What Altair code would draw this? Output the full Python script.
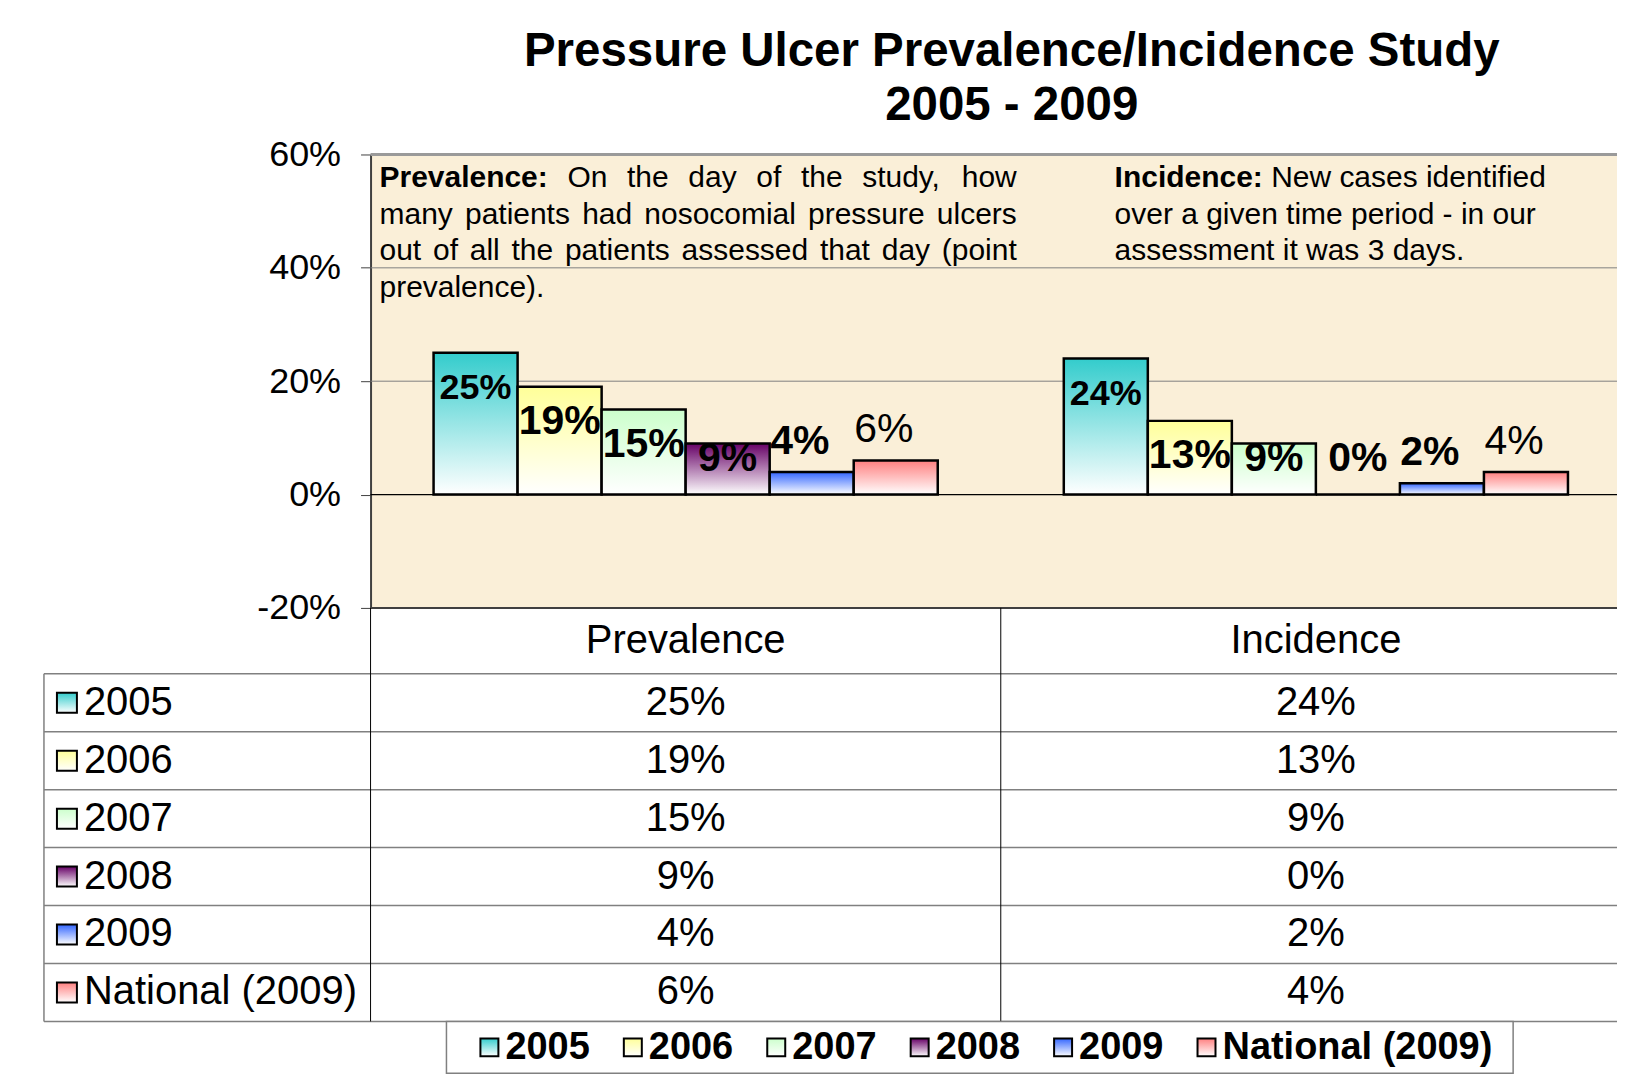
import altair as alt
import pandas as pd

# ---------------- data ----------------
series = ["2005", "2006", "2007", "2008", "2009", "National (2009)"]
categories = ["Prevalence", "Incidence"]
prevalence = [0.25, 0.19, 0.15, 0.09, 0.04, 0.06]
incidence = [0.24, 0.13, 0.09, 0.00, 0.02, 0.04]
y_ticks = [-0.2, 0.0, 0.2, 0.4, 0.6]
grid_vals = [0.2, 0.4]
title_lines = ["Pressure Ulcer Prevalence/Incidence Study", "2005 - 2009"]

# ---------------- styles ----------------
colors = ["#33CCCC", "#FFFF99", "#CCFFCC", "#660066", "#3366FF", "#FF8080"]
label_size = [36, 41, 41, 41, 41, 41]
label_weight = ["bold", "bold", "bold", "bold", "bold", "normal"]
label_outside = [False, False, False, False, True, True]

FONT = "Liberation Sans"
W, H = 1262, 454          # plot area of the bar panel (right part is cut by the page)
HEAD, ROW = 66, 58        # data table header / row heights
TH = HEAD + ROW * len(series)
LH = 52                   # legend strip height
TABLE_LEFT = -327

rows = []
for c, vals in zip(categories, [prevalence, incidence]):
    for s, v in zip(series, vals):
        rows.append({"category": c, "series": s, "value": v})
df = pd.DataFrame(rows)


def grad(c):
    return alt.LinearGradient(
        gradient="linear",
        stops=[alt.GradientStop(color=c, offset=0), alt.GradientStop(color="white", offset=1)],
        x1=0, x2=0, y1=0, y2=1,
    )


# ---------------- text layout helpers (Arial metrics) ----------------
AR = {' ': 278, 'a': 556, 'b': 556, 'c': 500, 'd': 556, 'e': 556, 'f': 278, 'g': 556, 'h': 556,
      'i': 222, 'j': 222, 'k': 500, 'l': 222, 'm': 833, 'n': 556, 'o': 556, 'p': 556, 'q': 556,
      'r': 333, 's': 500, 't': 278, 'u': 556, 'v': 500, 'w': 722, 'x': 500, 'y': 500, 'z': 500,
      ',': 278, '.': 278, '(': 333, ')': 333, ':': 278, '-': 333, 'O': 778, 'P': 667, 'N': 722, 'I': 278}
for d in "0123456789":
    AR[d] = 556
ARB = {'P': 667, 'r': 389, 'e': 556, 'v': 556, 'a': 556, 'l': 278, 'n': 611, 'c': 556, ':': 333,
       'I': 278, 'd': 611, 'i': 278, ' ': 278}


def tw(s, size, bold=False):
    tab = ARB if bold else AR
    return sum(tab.get(ch, AR.get(ch, 556)) for ch in s) / 1000 * size


def justify(parts, x0, x1, y, size):
    widths = [tw(w, size, b) for w, b in parts]
    gap = (x1 - x0 - sum(widths)) / (len(parts) - 1)
    out, x = [], x0
    for (w, b), wd in zip(parts, widths):
        out.append({"px": x, "py": y, "txt": w, "bold": b})
        x += wd + gap
    return out


def lead(bold_word, rest, x0, y, size):
    return [{"px": x0, "py": y, "txt": bold_word, "bold": True},
            {"px": x0 + tw(bold_word, size, True) + tw(" ", size), "py": y, "txt": rest, "bold": False}]


FS = 30
PX0, PX1 = 9, 647
IX0 = 745
BL = [33, 69.5, 106, 142.5]
ann = []
ann += justify([("Prevalence:", True)] + [(w, False) for w in "On the day of the study, how".split()], PX0, PX1, BL[0], FS)
ann += justify([(w, False) for w in "many patients had nosocomial pressure ulcers".split()], PX0, PX1, BL[1], FS)
ann += justify([(w, False) for w in "out of all the patients assessed that day (point".split()], PX0, PX1, BL[2], FS)
ann += [{"px": PX0, "py": BL[3], "txt": "prevalence).", "bold": False}]
ann += lead("Incidence:", "New cases identified", IX0, BL[0], FS)
ann += [{"px": IX0, "py": BL[1], "txt": "over a given time period - in our", "bold": False}]
ann += [{"px": IX0, "py": BL[2], "txt": "assessment it was 3 days.", "bold": False}]
ann_df = pd.DataFrame(ann)

# ---------------- bar panel ----------------
yscale = alt.Scale(domain=[-0.2, 0.6], nice=False)
yaxis = alt.Axis(values=y_ticks, format=".0%", labelExpr="replace(datum.label, '\u2212', '-')",
                 labelFontSize=36, labelFont=FONT, labelColor="black",
                 labelPadding=20, tickSize=10, tickColor="#404040", tickWidth=1,
                 domainColor="#404040", domainWidth=2, grid=False, labelFlush=False, title=None)


def Y(field):
    return alt.Y(f"{field}:Q", scale=yscale, axis=yaxis, title=None)


XA = alt.X("category:N", scale=alt.Scale(domain=categories, paddingInner=0, paddingOuter=0), axis=None, sort=categories)
XO = alt.XOffset("series:N", scale=alt.Scale(domain=series, paddingInner=0, paddingOuter=0.75), sort=series)

layers = []
layers.append(alt.Chart(pd.DataFrame({"value": grid_vals})).mark_rule(color="#808080", strokeWidth=1).encode(y=Y("value")))
layers.append(alt.Chart(pd.DataFrame({"value": [0.0]})).mark_rule(color="black", strokeWidth=1.2).encode(y=Y("value")))
layers.append(alt.Chart(pd.DataFrame({"value": [0.6]})).mark_rule(color="#9a9a9a", strokeWidth=3).encode(y=Y("value")))
layers.append(alt.Chart(pd.DataFrame({"value": [-0.2]})).mark_rule(color="#404040", strokeWidth=2).encode(y=Y("value")))

for i, s in enumerate(series):
    layers.append(
        alt.Chart(df).transform_filter(alt.datum.series == s)
        .mark_bar(fill=grad(colors[i]), stroke="black", strokeWidth=2.5)
        .encode(x=XA, xOffset=XO, y=Y("value"), y2=alt.datum(0))
    )

for i, s in enumerate(series):
    if label_outside[i]:
        expr, dx = "datum.value + 0.053", -12
    else:
        expr, dx = "max(datum.value - 0.062, 0.062)", 0
    layers.append(
        alt.Chart(df).transform_filter(alt.datum.series == s)
        .transform_calculate(ly=expr)
        .mark_text(fontSize=label_size[i], fontWeight=label_weight[i], baseline="middle", dx=dx, font=FONT, color="black")
        .encode(x=XA, xOffset=XO, y=Y("ly"), text=alt.Text("value:Q", format=".0%"))
    )

for bold in [True, False]:
    sub = ann_df[ann_df["bold"] == bold]
    layers.append(
        alt.Chart(sub).mark_text(align="left", baseline="alphabetic", fontSize=FS,
                                 fontWeight="bold" if bold else "normal", font=FONT, color="black")
        .encode(x=alt.X("px:Q", scale=None, axis=None), y=alt.Y("py:Q", scale=None, axis=None), text="txt:N")
    )

layers.append(
    alt.Chart(pd.DataFrame({"px": [642, 642], "py": [-89, -35], "txt": title_lines}))
    .mark_text(align="center", baseline="alphabetic", fontSize=47.5, fontWeight="bold", font=FONT, color="black")
    .encode(x=alt.X("px:Q", scale=None, axis=None), y=alt.Y("py:Q", scale=None, axis=None), text="txt:N")
)

bars = alt.layer(*layers).properties(
    width=W, height=H, view=alt.ViewBackground(fill="#FAEFD8", stroke="transparent", strokeWidth=0))

# ---------------- data table ----------------
xbs = alt.Scale(domain=categories, paddingInner=0, paddingOuter=0)
ybs = alt.Scale(domain=series, range=[HEAD, TH], paddingInner=0, paddingOuter=0)
XB = alt.X("category:N", scale=xbs, axis=None, sort=categories)
YB = alt.Y("series:N", scale=ybs, axis=None, sort=series)
cat_df = pd.DataFrame({"category": categories})
ser_df = pd.DataFrame({"series": series})
one = pd.DataFrame({"k": [0]})

tl = []
tl.append(alt.Chart(ser_df).mark_rule(color="#808080", strokeWidth=1.5)
          .encode(y=alt.Y("series:N", scale=ybs, axis=None, sort=series, bandPosition=0),
                  x=alt.value(TABLE_LEFT), x2=alt.value(W)))
tl.append(alt.Chart(one).mark_rule(color="#808080", strokeWidth=1.5)
          .encode(y=alt.value(TH), x=alt.value(TABLE_LEFT), x2=alt.value(W)))
tl.append(alt.Chart(one).mark_rule(color="#808080", strokeWidth=1.5)
          .encode(x=alt.value(TABLE_LEFT), y=alt.value(HEAD), y2=alt.value(TH)))
tl.append(alt.Chart(cat_df).mark_rule(color="black", strokeWidth=1)
          .encode(x=alt.X("category:N", scale=xbs, axis=None, sort=categories, bandPosition=0),
                  y=alt.value(0), y2=alt.value(TH)))
tl.append(alt.Chart(cat_df).mark_text(fontSize=40, baseline="middle", font=FONT, color="black")
          .encode(x=XB, y=alt.value(33), text="category:N"))
tl.append(alt.Chart(df).mark_text(fontSize=40, baseline="middle", font=FONT, color="black")
          .encode(x=XB, y=YB, text=alt.Text("value:Q", format=".0%")))
tl.append(alt.Chart(ser_df).mark_text(align="left", fontSize=40, baseline="middle", font=FONT, color="black")
          .encode(x=alt.value(-287), y=YB, text="series:N"))
for i, s in enumerate(series):
    tl.append(alt.Chart(ser_df).transform_filter(alt.datum.series == s)
              .mark_square(size=400, fill=grad(colors[i]), stroke="black", strokeWidth=2, opacity=1)
              .encode(x=alt.value(-304), y=YB))
table = alt.layer(*tl).properties(width=W, height=TH)

# ---------------- legend strip ----------------
xls = alt.Scale(type="point", domain=series, range=[119, 837], padding=0)
XL = alt.X("series:N", scale=xls, axis=None, sort=series)
ll = []
ll.append(alt.Chart(one).mark_rect(fill="white", stroke="#808080", strokeWidth=1.5)
          .encode(x=alt.value(76), x2=alt.value(1144), y=alt.value(0), y2=alt.value(LH)))
for i, s in enumerate(series):
    ll.append(alt.Chart(ser_df).transform_filter(alt.datum.series == s)
              .mark_square(size=324, fill=grad(colors[i]), stroke="black", strokeWidth=2, opacity=1)
              .encode(x=XL, y=alt.value(LH / 2)))
ll.append(alt.Chart(ser_df).mark_text(align="left", baseline="middle", dx=16, fontSize=38, fontWeight="bold",
                                      font=FONT, color="black")
          .encode(x=XL, y=alt.value(LH / 2 + 1), text="series:N"))
legend = alt.layer(*ll).properties(width=W, height=LH)

chart = (
    alt.vconcat(bars, table, legend, spacing=0, bounds="flush")
    .resolve_scale(x="independent", y="independent")
    .properties(padding={"left": 35, "top": 19, "right": -16, "bottom": 1}, background="white")
    .configure(font=FONT)
    .configure_view(stroke="transparent", strokeWidth=0)
)

chart.save("out.html", embed_options={"renderer": "svg", "actions": False})
